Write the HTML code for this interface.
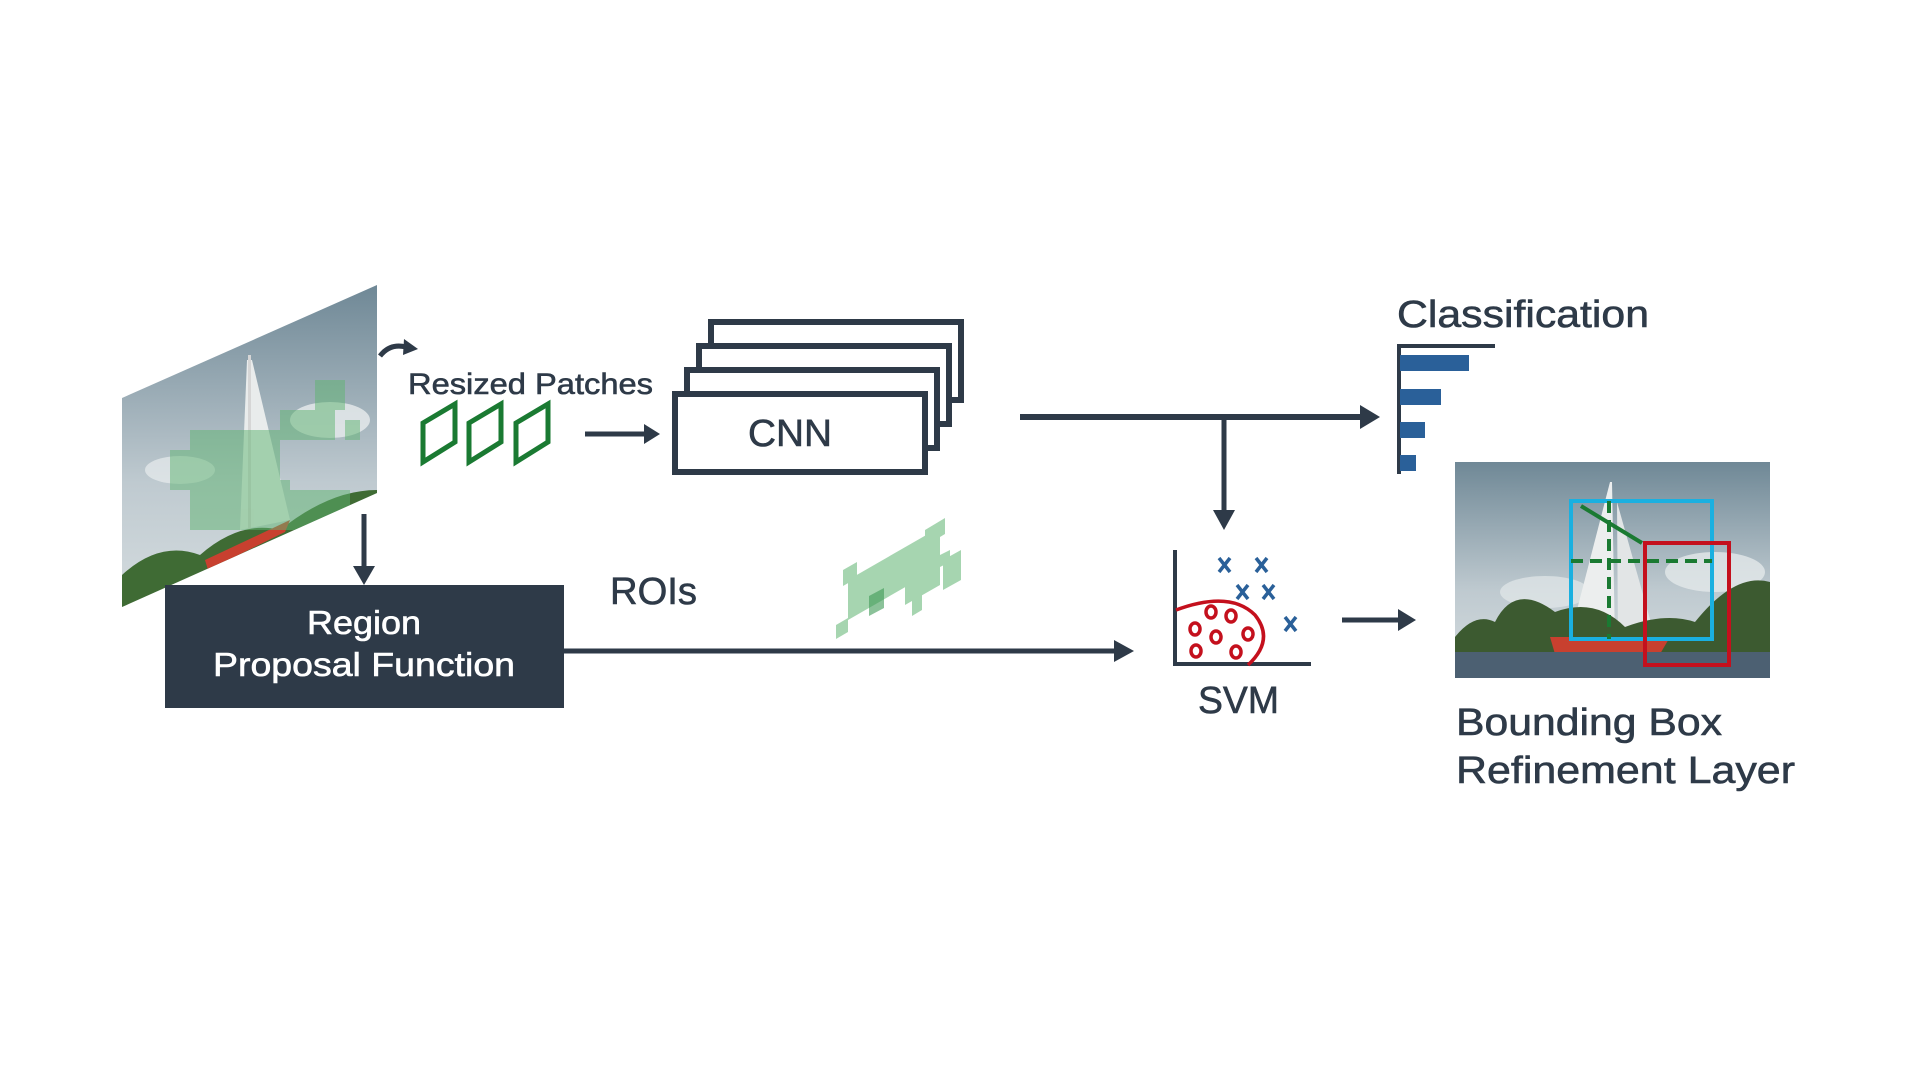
<!DOCTYPE html>
<html><head><meta charset="utf-8"><style>
html,body{margin:0;padding:0;background:#fff;}
svg{display:block;font-family:"Liberation Sans",sans-serif;}
text{stroke-width:0.6;}
</style></head><body>
<svg width="1920" height="1080" viewBox="0 0 1920 1080" xmlns="http://www.w3.org/2000/svg">
<defs>
<linearGradient id="sky" x1="0" y1="0" x2="0" y2="1">
<stop offset="0" stop-color="#6f8896"/><stop offset="0.6" stop-color="#bfcad0"/><stop offset="1" stop-color="#d6dde0"/>
</linearGradient>
<clipPath id="para"><polygon points="122,398 377,285 377,493 122,607"/></clipPath>
</defs>

<!-- left photo parallelogram -->
<g clip-path="url(#para)">
<rect x="122" y="285" width="255" height="330" fill="url(#sky)"/>
<ellipse cx="330" cy="420" rx="40" ry="18" fill="#e8ecee" opacity="0.8"/>
<ellipse cx="180" cy="470" rx="35" ry="14" fill="#e8ecee" opacity="0.7"/>
<polygon points="247,360 252,360 290,520 240,530" fill="#e9ecec"/>
<rect x="248" y="355" width="3" height="180" fill="#d6d6d6"/>
<path d="M122,575 Q160,540 200,555 Q240,520 280,530 Q330,490 377,490 L377,540 L122,610 Z" fill="#3f6b34"/>
<polygon points="205,560 290,520 285,532 208,570" fill="#c8402f"/>
<g fill="#5fb470" opacity="0.5">
<rect x="170" y="450" width="30" height="40"/><rect x="190" y="430" width="90" height="100"/>
<rect x="280" y="410" width="55" height="30"/><rect x="315" y="380" width="30" height="30"/>
<rect x="345" y="420" width="15" height="20"/><rect x="230" y="480" width="60" height="50"/>
<rect x="270" y="490" width="80" height="40"/><rect x="210" y="500" width="30" height="30"/>
</g>
</g>

<!-- curved arrow -->
<path d="M380,356 Q390,343 406,347" fill="none" stroke="#2e3a48" stroke-width="5"/>
<polygon points="404,339 418,349 403,355" fill="#2e3a48"/>

<text x="408" y="394" font-size="30" fill="#2e3a48" stroke="#2e3a48" textLength="245" lengthAdjust="spacingAndGlyphs">Resized Patches</text>
<g fill="none" stroke="#1a7a32" stroke-width="5">
<polygon points="423,462 423,423 455,404 455,442"/>
<polygon points="469,462 469,423 501,404 501,442"/>
<polygon points="516,462 516,423 548,404 548,442"/>
</g>
<line x1="585" y1="434" x2="648" y2="434" stroke="#2e3a48" stroke-width="5"/>
<polygon points="644,424 660,434 644,444" fill="#2e3a48"/>

<!-- CNN stack -->
<g fill="#fff" stroke="#2e3a48" stroke-width="6">
<rect x="711" y="322" width="250" height="78"/>
<rect x="699" y="346" width="250" height="78"/>
<rect x="687" y="370" width="250" height="78"/>
<rect x="675" y="394" width="250" height="78"/>
</g>
<text x="748" y="446" font-size="38" fill="#2e3a48" stroke="#2e3a48" textLength="84" lengthAdjust="spacingAndGlyphs">CNN</text>

<!-- CNN -> classification -->
<line x1="1020" y1="417" x2="1364" y2="417" stroke="#2e3a48" stroke-width="6"/>
<polygon points="1360,405 1380,417 1360,429" fill="#2e3a48"/>
<line x1="1224" y1="417" x2="1224" y2="512" stroke="#2e3a48" stroke-width="5"/>
<polygon points="1213,510 1224,530 1235,510" fill="#2e3a48"/>

<text x="1397" y="327" font-size="38" fill="#2e3a48" stroke="#2e3a48" textLength="252" lengthAdjust="spacingAndGlyphs">Classification</text>
<line x1="1397" y1="346" x2="1495" y2="346" stroke="#2e3a48" stroke-width="4"/>
<line x1="1399" y1="344" x2="1399" y2="474" stroke="#2e3a48" stroke-width="4"/>
<g fill="#2a6099">
<rect x="1400" y="355" width="69" height="16"/>
<rect x="1400" y="389" width="41" height="16"/>
<rect x="1400" y="422" width="25" height="16"/>
<rect x="1400" y="455" width="16" height="16"/>
</g>

<!-- Region proposal -->
<line x1="364" y1="514" x2="364" y2="568" stroke="#2e3a48" stroke-width="5"/>
<polygon points="353,566 364,585 375,566" fill="#2e3a48"/>
<rect x="165" y="585" width="399" height="123" fill="#2e3a48"/>
<text x="307" y="634" font-size="33" fill="#fff" stroke="#fff" textLength="114" lengthAdjust="spacingAndGlyphs">Region</text>
<text x="213" y="676" font-size="33" fill="#fff" stroke="#fff" textLength="302" lengthAdjust="spacingAndGlyphs">Proposal Function</text>

<line x1="563" y1="651" x2="1118" y2="651" stroke="#2e3a48" stroke-width="5"/>
<polygon points="1114,640 1134,651 1114,662" fill="#2e3a48"/>
<text x="610" y="604" font-size="38" fill="#2e3a48" stroke="#2e3a48" textLength="87" lengthAdjust="spacingAndGlyphs">ROIs</text>

<!-- ROI patches -->
<g fill="#5fb470" opacity="0.55">
<polygon points="848,580 935,530 935,570 848,620"/>
<polygon points="905,555 940,535 940,585 905,605"/>
<polygon points="836,625 848,618 848,632 836,639"/>
<polygon points="843,570 857,562 857,578 843,586"/>
<polygon points="925,530 945,518 945,534 925,546"/>
<polygon points="943,560 961,550 961,580 943,590"/>
<polygon points="912,600 922,594 922,610 912,616"/>
<polygon points="940,555 950,550 950,562 940,567"/>
</g>
<polygon points="869,596 884,588 884,608 869,616" fill="#3e9a55" opacity="0.6"/>

<!-- SVM -->
<line x1="1175" y1="550" x2="1175" y2="666" stroke="#2e3a48" stroke-width="4"/>
<line x1="1173" y1="664" x2="1311" y2="664" stroke="#2e3a48" stroke-width="4"/>
<g stroke="#2a6099" stroke-width="3.5" fill="none">
<path d="M1219,558 l11,14 m0,-14 l-11,14"/>
<path d="M1256,558 l11,14 m0,-14 l-11,14"/>
<path d="M1237,585 l11,14 m0,-14 l-11,14"/>
<path d="M1263,585 l11,14 m0,-14 l-11,14"/>
<path d="M1285,617 l11,14 m0,-14 l-11,14"/>
</g>
<path d="M1176,610 Q1230,590 1255,615 Q1275,640 1248,665" fill="none" stroke="#c4101d" stroke-width="3.5"/>
<g fill="none" stroke="#c4101d" stroke-width="3.5">
<ellipse cx="1211" cy="612" rx="5" ry="6"/><ellipse cx="1231" cy="616" rx="5" ry="6"/>
<ellipse cx="1195" cy="629" rx="5" ry="6"/><ellipse cx="1216" cy="637" rx="5" ry="6"/>
<ellipse cx="1248" cy="634" rx="5" ry="6"/><ellipse cx="1196" cy="651" rx="5" ry="6"/>
<ellipse cx="1236" cy="652" rx="5" ry="6"/>
</g>
<text x="1198" y="713" font-size="38" fill="#2e3a48" stroke="#2e3a48" textLength="81" lengthAdjust="spacingAndGlyphs">SVM</text>

<line x1="1342" y1="620" x2="1400" y2="620" stroke="#2e3a48" stroke-width="5"/>
<polygon points="1398,609 1416,620 1398,631" fill="#2e3a48"/>

<!-- right photo -->
<svg x="1455" y="462" width="315" height="216" viewBox="0 0 315 216">
<rect width="315" height="216" fill="url(#sky)"/>
<ellipse cx="260" cy="110" rx="50" ry="20" fill="#e3e8ea" opacity="0.8"/>
<ellipse cx="90" cy="130" rx="45" ry="16" fill="#e3e8ea" opacity="0.7"/>
<polygon points="155,20 157,20 160,180 115,175" fill="#eceeee"/>
<polygon points="162,40 200,175 163,180" fill="#e2e5e6"/>
<path d="M0,175 Q20,150 40,160 Q60,120 100,150 Q140,135 170,165 Q210,150 240,160 Q280,110 315,120 L315,190 L0,190 Z" fill="#3c5a30"/>
<polygon points="95,175 215,175 205,192 100,192" fill="#c8402f"/>
<rect y="190" width="315" height="26" fill="#4c6072"/>
</svg>
<rect x="1571" y="501" width="141" height="138" fill="none" stroke="#1ab0e0" stroke-width="4"/>
<rect x="1645" y="543" width="84" height="122" fill="none" stroke="#c4101d" stroke-width="4"/>
<line x1="1571" y1="561" x2="1712" y2="561" stroke="#1a7a32" stroke-width="4" stroke-dasharray="12,7"/>
<line x1="1609" y1="501" x2="1609" y2="639" stroke="#1a7a32" stroke-width="4" stroke-dasharray="12,7"/>
<line x1="1581" y1="506" x2="1642" y2="543" stroke="#1a7a32" stroke-width="4"/>

<text x="1456" y="735" font-size="38" fill="#2e3a48" stroke="#2e3a48" textLength="266" lengthAdjust="spacingAndGlyphs">Bounding Box</text>
<text x="1456" y="783" font-size="38" fill="#2e3a48" stroke="#2e3a48" textLength="339" lengthAdjust="spacingAndGlyphs">Refinement Layer</text>
</svg>
</body></html>
